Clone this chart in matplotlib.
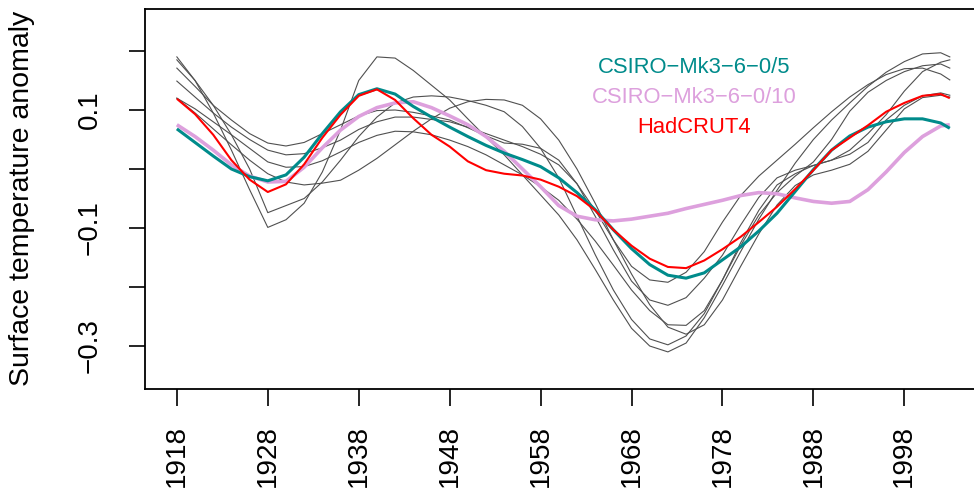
import matplotlib
matplotlib.use("Agg")
import matplotlib.pyplot as plt

plt.rcParams['font.family'] = ['Liberation Sans', 'DejaVu Sans']

years = [1918, 1920, 1922, 1924, 1926, 1928, 1930, 1932, 1934, 1936, 1938,
         1940, 1942, 1944, 1946, 1948, 1950, 1952, 1954, 1956, 1958, 1960,
         1962, 1964, 1966, 1968, 1970, 1972, 1974, 1976, 1978, 1980, 1982,
         1984, 1986, 1988, 1990, 1992, 1994, 1996, 1998, 2000, 2002, 2003]

# ensemble members (grey)
member_1 = [0.190, 0.150, 0.095, 0.032, -0.035, -0.099, -0.086, -0.058, -0.005, 0.066, 0.150,
            0.190, 0.188, 0.167, 0.142, 0.117, 0.085, 0.054, 0.024, -0.010, -0.044, -0.078,
            -0.120, -0.170, -0.222, -0.270, -0.300, -0.310, -0.295, -0.252, -0.197, -0.140, -0.085,
            -0.036, 0.010, 0.050, 0.083, 0.112, 0.140, 0.164, 0.182, 0.195, 0.197, 0.190]
member_2 = [0.185, 0.150, 0.108, 0.058, 0.000, -0.074, -0.062, -0.050, -0.022, 0.015, 0.055,
            0.088, 0.112, 0.122, 0.124, 0.122, 0.116, 0.108, 0.097, 0.072, 0.035, -0.015,
            -0.080, -0.145, -0.205, -0.255, -0.288, -0.298, -0.283, -0.245, -0.188, -0.130, -0.078,
            -0.040, -0.012, 0.012, 0.050, 0.098, 0.130, 0.150, 0.165, 0.175, 0.178, 0.171]
member_3 = [0.171, 0.140, 0.108, 0.083, 0.060, 0.044, 0.039, 0.045, 0.060, 0.075, 0.090,
            0.099, 0.100, 0.096, 0.090, 0.083, 0.070, 0.056, 0.044, 0.042, 0.035, 0.015,
            -0.025, -0.080, -0.137, -0.190, -0.222, -0.231, -0.218, -0.185, -0.146, -0.095, -0.048,
            -0.015, -0.002, 0.006, 0.015, 0.032, 0.060, 0.092, 0.132, 0.165, 0.181, 0.185]
member_4 = [0.149, 0.122, 0.095, 0.071, 0.050, 0.032, 0.024, 0.026, 0.036, 0.049, 0.067,
            0.080, 0.088, 0.088, 0.084, 0.080, 0.071, 0.060, 0.049, 0.038, 0.025, 0.007,
            -0.025, -0.070, -0.120, -0.178, -0.230, -0.268, -0.280, -0.264, -0.222, -0.165, -0.110,
            -0.061, -0.028, -0.010, -0.002, 0.008, 0.030, 0.066, 0.102, 0.121, 0.125, 0.122]
member_5 = [0.120, 0.102, 0.080, 0.058, 0.035, 0.012, 0.003, 0.004, 0.014, 0.029, 0.045,
            0.057, 0.064, 0.063, 0.058, 0.049, 0.038, 0.024, 0.007, -0.010, -0.030, -0.053,
            -0.085, -0.122, -0.163, -0.205, -0.240, -0.264, -0.265, -0.240, -0.188, -0.125, -0.070,
            -0.027, -0.008, 0.006, 0.015, 0.025, 0.045, 0.083, 0.108, 0.124, 0.129, 0.125]
member_6 = [0.120, 0.095, 0.068, 0.041, 0.015, -0.008, -0.022, -0.027, -0.024, -0.019, -0.002,
            0.018, 0.041, 0.064, 0.085, 0.103, 0.114, 0.118, 0.117, 0.108, 0.085, 0.049,
            0.000, -0.058, -0.120, -0.165, -0.188, -0.192, -0.175, -0.140, -0.090, -0.045, -0.012,
            0.015, 0.042, 0.070, 0.097, 0.122, 0.143, 0.160, 0.170, 0.171, 0.161, 0.151]
members = [member_1, member_2, member_3, member_4, member_5, member_6]

csiro_5 = [0.068, 0.045, 0.022, 0.000, -0.013, -0.020, -0.010, 0.020, 0.060, 0.097, 0.126,
           0.136, 0.127, 0.106, 0.088, 0.071, 0.055, 0.040, 0.027, 0.016, 0.004, -0.015,
           -0.040, -0.069, -0.103, -0.135, -0.162, -0.180, -0.185, -0.176, -0.154, -0.132, -0.105,
           -0.075, -0.038, -0.001, 0.032, 0.056, 0.071, 0.080, 0.085, 0.085, 0.078, 0.069]
csiro_10 = [0.075, 0.055, 0.032, 0.007, -0.012, -0.022, -0.021, 0.003, 0.036, 0.066, 0.089,
            0.104, 0.112, 0.114, 0.104, 0.090, 0.075, 0.055, 0.030, 0.000, -0.030, -0.062,
            -0.080, -0.086, -0.088, -0.085, -0.080, -0.075, -0.067, -0.060, -0.053, -0.045, -0.040,
            -0.042, -0.049, -0.055, -0.058, -0.055, -0.035, -0.005, 0.028, 0.055, 0.073, 0.075]
hadcrut4 = [0.119, 0.093, 0.058, 0.015, -0.018, -0.039, -0.026, 0.008, 0.053, 0.092, 0.124,
            0.135, 0.117, 0.086, 0.058, 0.038, 0.013, -0.002, -0.008, -0.011, -0.018, -0.030,
            -0.046, -0.070, -0.103, -0.130, -0.152, -0.166, -0.168, -0.155, -0.136, -0.115, -0.090,
            -0.064, -0.034, -0.002, 0.032, 0.053, 0.074, 0.097, 0.112, 0.124, 0.127, 0.120]

legend_labels = ["CSIRO\u2212Mk3\u22126\u22120/5", "CSIRO\u2212Mk3\u22126\u22120/10", "HadCRUT4"]
legend_colors = ["#008B8B", "#DDA0DD", "#FF0000"]

xticks = [1918, 1928, 1938, 1948, 1958, 1968, 1978, 1988, 1998]
yticks = [0.2, 0.1, 0.0, -0.1, -0.2, -0.3]
ytick_labels = ["", "0.1", "", "\u22120.1", "", "\u22120.3"]

fig = plt.figure(figsize=(9.74, 4.91), dpi=100)
ax = fig.add_axes([0.1489, 0.2077, 0.858, 0.774])

for m in members:
    ax.plot(years, m, color='#505050', linewidth=0.8, solid_joinstyle='round')
ax.plot(years, csiro_10, color=legend_colors[1], linewidth=2.6,
        solid_capstyle='butt', solid_joinstyle='round')
ax.plot(years, csiro_5, color=legend_colors[0], linewidth=2.2,
        solid_capstyle='butt', solid_joinstyle='round')
ax.plot(years, hadcrut4, color=legend_colors[2], linewidth=1.5,
        solid_capstyle='butt', solid_joinstyle='round')

ax.set_xlim(1914.5, 2006.4)
ax.set_ylim(-0.3729, 0.2712)

ax.set_xticks(xticks)
ax.set_xticklabels([str(y) for y in xticks], rotation=90, fontsize=20)
ax.set_yticks(yticks)
ax.set_yticklabels(ytick_labels, rotation=90, va='center', fontsize=20)
ax.tick_params(axis='x', length=12, width=1.2, pad=14)
ax.tick_params(axis='y', length=11.5, width=1.2, pad=19)
for s in ax.spines.values():
    s.set_linewidth(1.3)

fig.text(22 / 974, 0.5957, "Surface temperature anomaly", rotation=90,
         ha='center', va='center', fontsize=20.5)

# legend as centred coloured text
text_y = [0.163, 0.112, 0.061]
for lab, col, ty in zip(legend_labels, legend_colors, text_y):
    ax.text(1974.9, ty, lab, color=col, fontsize=15.8, ha='center', va='baseline')

fig.savefig("out.png", dpi=100)
